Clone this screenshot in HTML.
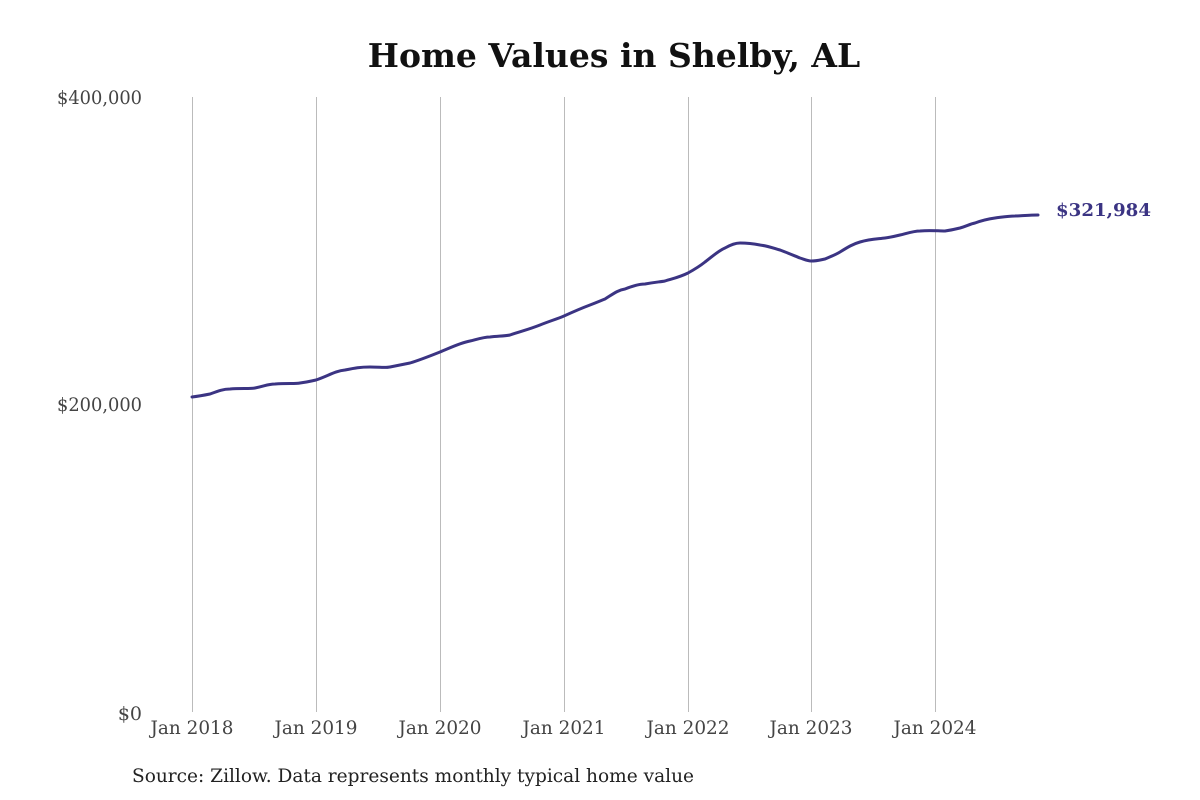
<!DOCTYPE html>
<html><head><meta charset="utf-8"><style>
html,body{margin:0;padding:0;background:#fff;}
svg{display:block;}
text{font-family:"DejaVu Serif","Liberation Serif",serif;}
</style></head><body>
<svg width="1200" height="800" viewBox="0 0 1200 800" xmlns="http://www.w3.org/2000/svg">
<rect width="1200" height="800" fill="#fff"/>
<text x="614" y="67" text-anchor="middle" font-size="33" font-weight="bold" fill="#111">Home Values in Shelby, AL</text>
<g stroke="#bbb" stroke-width="1">
<line x1="192.5" y1="97" x2="192.5" y2="712"/>
<line x1="316.5" y1="97" x2="316.5" y2="712"/>
<line x1="440.5" y1="97" x2="440.5" y2="712"/>
<line x1="564.5" y1="97" x2="564.5" y2="712"/>
<line x1="688.5" y1="97" x2="688.5" y2="712"/>
<line x1="811.5" y1="97" x2="811.5" y2="712"/>
<line x1="935.5" y1="97" x2="935.5" y2="712"/>
</g>
<g font-size="19" fill="#444" text-anchor="end">
<text x="142" y="104" textLength="85" lengthAdjust="spacingAndGlyphs">$400,000</text>
<text x="142" y="411" textLength="85" lengthAdjust="spacingAndGlyphs">$200,000</text>
<text x="142" y="720">$0</text>
</g>
<g font-size="19" fill="#444" text-anchor="middle">
<text x="192" y="734" textLength="83" lengthAdjust="spacingAndGlyphs">Jan 2018</text>
<text x="316" y="734" textLength="83" lengthAdjust="spacingAndGlyphs">Jan 2019</text>
<text x="440" y="734" textLength="83" lengthAdjust="spacingAndGlyphs">Jan 2020</text>
<text x="564" y="734" textLength="83" lengthAdjust="spacingAndGlyphs">Jan 2021</text>
<text x="688" y="734" textLength="83" lengthAdjust="spacingAndGlyphs">Jan 2022</text>
<text x="811" y="734" textLength="83" lengthAdjust="spacingAndGlyphs">Jan 2023</text>
<text x="935" y="734" textLength="83" lengthAdjust="spacingAndGlyphs">Jan 2024</text>
</g>
<text x="132" y="782" font-size="19" fill="#222" textLength="562" lengthAdjust="spacingAndGlyphs">Source: Zillow. Data represents monthly typical home value</text>
<path fill="none" stroke="#3b3483" stroke-width="3" stroke-linejoin="round" stroke-linecap="round"
d="M192,397 C200,396 205,395 210,394 C218,391 223,389 230,389 C240,388 250,389 255,388 C265,386 268,384 275,384 C288,383 295,384 300,383 C308,382 311,381 316,380 C328,376 335,371 345,370 C355,368 360,367 370,367 C380,367 385,368 390,367 C400,365 405,364 410,363 C420,360 430,356 440,352 C452,347 460,343 470,341 C478,339 484,337 490,337 C500,336 505,336 510,335 C522,331 530,329 540,325 C550,321 557,319 564,316 C575,311 582,308 590,305 C598,302 600,301 605,299 C613,294 618,290 625,289 C635,285 640,284 645,284 C655,282 660,282 665,281 C675,278 680,277 688,273 C697,268 700,266 705,262 C713,256 718,251 725,248 C732,244 736,243 740,243 C748,243 755,244 760,245 C768,246 773,248 780,250 C788,253 795,256 800,258 C806,260 808,261 811,261 C817,261 820,260 825,259 C832,256 835,255 840,252 C848,247 853,244 860,242 C870,239 877,239 885,238 C892,237 896,236 900,235 C908,233 914,231 920,231 C930,230 938,231 945,231 C952,230 956,229 960,228 C967,226 970,224 975,223 C983,220 988,219 995,218 C1003,217 1008,216 1015,216 C1025,215.5 1032,215 1038,215"/>
<text x="1056" y="216" font-size="18" font-weight="bold" fill="#3b3483" textLength="95" lengthAdjust="spacingAndGlyphs">$321,984</text>
</svg>
</body></html>
